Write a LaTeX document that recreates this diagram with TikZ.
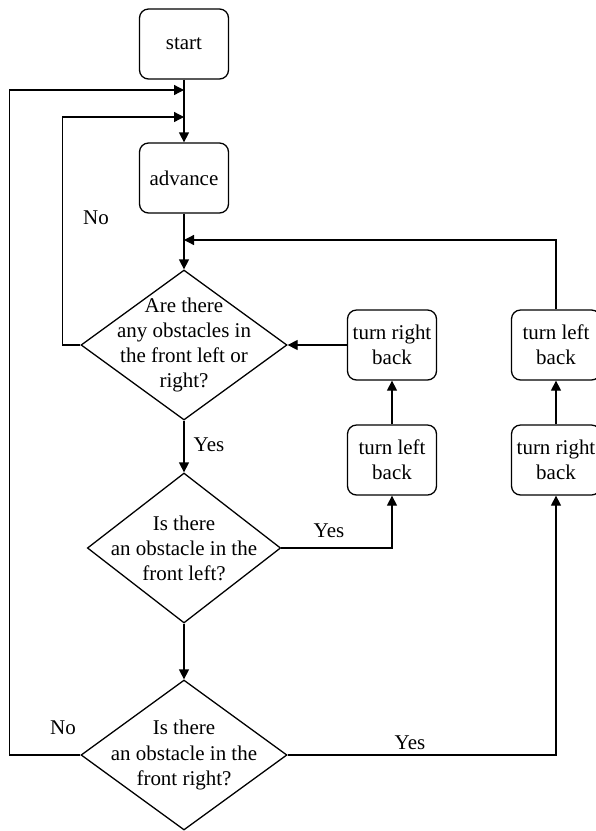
\documentclass[tikz,border=0pt]{standalone}
\usepackage{fontspec}
\setmainfont{Liberation Serif}
\usetikzlibrary{arrows.meta, shapes.geometric}
\newcommand{\chartfont}{\fontsize{17.9pt}{21.4pt}\selectfont}
\tikzset{
  sbox/.style={    % process step (rounded)
    draw=black, fill=white, rounded corners=0.27cm,
    minimum width=2.67cm, minimum height=2.1cm,
    align=center, font=\chartfont, inner sep=0pt, line width=1.1pt
  },
  qbox/.style={    % decision diamond (text set as centre label)
    diamond, draw=black, fill=white,
    minimum height=4.5cm, inner sep=0pt, line width=1.1pt
  },
  qtext/.style={align=center, font=\chartfont, inner sep=0pt},
  lbl/.style={font=\chartfont, inner sep=0pt},
  arr/.style={-{Triangle[length=0.3cm, width=0.3cm]}, line width=1.1pt, color=black},
  ln/.style={line width=1.1pt, color=black},
}
\begin{document}
\begin{tikzpicture}
\useasboundingbox (0,0) rectangle (17.88,-24.93);

%% --- main column ---
\node[sbox] (start)   at (5.52, -1.32) {start};
\node[sbox] (advance) at (5.52, -5.34) {advance};

\node[qbox, minimum width=6.18cm] (q1) at (5.52, -10.35) {};
\node[qtext] (q1t) at (q1.center) {Are there\\any obstacles in\\the front left or\\right?};

\node[qbox, minimum width=5.80cm] (q2) at (5.52, -16.44) {};
\node[qtext] (q2t) at (q2.center) {Is there\\an obstacle in the\\front left?};

\node[qbox, minimum width=6.18cm] (q3) at (5.52, -22.65) {};
\node[qtext] (q3t) at (q3.center) {Is there\\an obstacle in the\\front right?};

% junctions on the main line
\coordinate (j1) at (5.52, -2.70);
\coordinate (j2) at (5.52, -3.51);
\coordinate (j3) at (5.52, -7.20);

\draw[arr] (start.south) -- (advance.north);
\draw[arr] (advance.south) -- (q1.north);
\draw[arr] (q1.south) -- (q2.north);
\draw[arr] (q2.south) -- (q3.north);

%% --- middle column: left obstacle ---
\node[sbox] (tlb1) at (11.76, -13.80) {turn left\\back};
\node[sbox] (trb1) at (11.76, -10.35) {turn right\\back};

\draw[arr] (q2.east) -| (tlb1.south);
\draw[arr] (tlb1.north) -- (trb1.south);
\draw[arr] (trb1.west) -- (q1.east);

%% --- right column: right obstacle (runs off the edge) ---
\node[sbox] (trb2) at (16.68, -13.80) {turn right\\back};
\node[sbox] (tlb2) at (16.68, -10.35) {turn left\\back};

\draw[arr] (q3.east) -| (trb2.south);
\draw[arr] (trb2.north) -- (tlb2.south);
\draw[arr] (tlb2.north) |- (j3);

%% --- "No" loops back to the top ---
\draw[arr] (q1.west) -- ++(-0.54, 0) |- (j2);
\draw[arr] (q3.west) -- ++(-2.13, 0) |- (j1);

%% --- branch labels ---
\node[lbl] (no1)  at (2.88, -6.54)  {No};
\node[lbl] (yes1) at (6.27, -13.35) {Yes};
\node[lbl] (yes2) at (9.87, -15.93) {Yes};
\node[lbl] (no2)  at (1.89, -21.84) {No};
\node[lbl] (yes3) at (12.30, -22.29) {Yes};

\end{tikzpicture}
\end{document}
